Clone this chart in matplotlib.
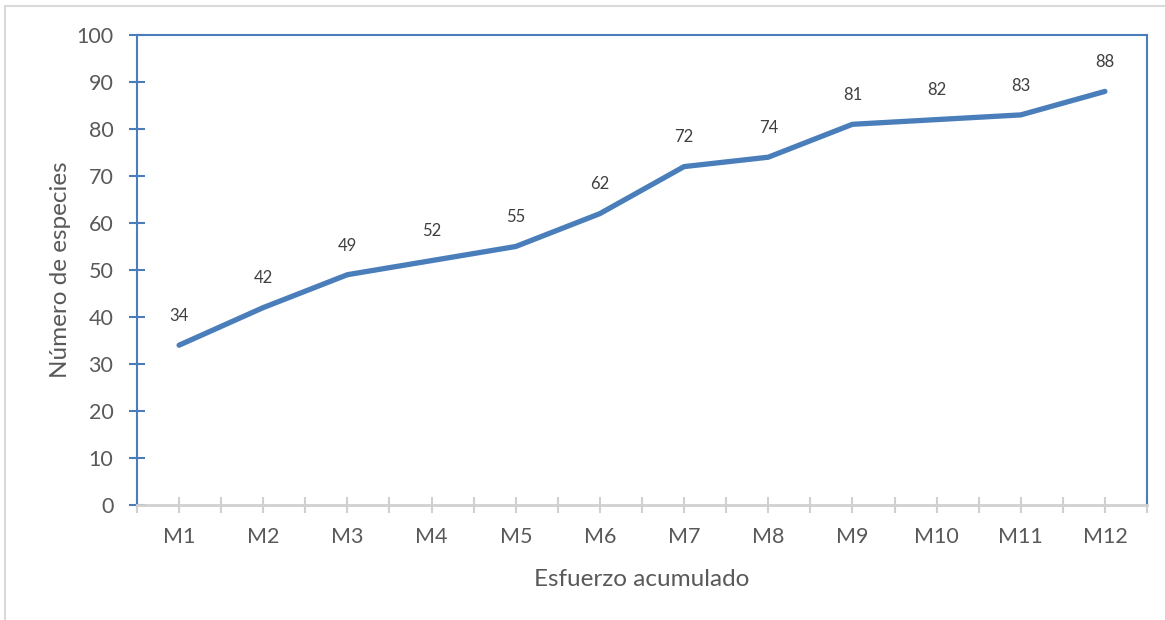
import matplotlib.pyplot as plt
from matplotlib.patches import Rectangle

muestreos = ['M1', 'M2', 'M3', 'M4', 'M5', 'M6', 'M7', 'M8', 'M9', 'M10', 'M11', 'M12']
especies = [34, 42, 49, 52, 55, 62, 72, 74, 81, 82, 83, 88]

plt.rcParams['font.family'] = ['Lato', 'DejaVu Sans']
azul = '#4a7ebb'
gris = '#595959'

fig = plt.figure(figsize=(11.65, 6.2), dpi=100)
ax = fig.add_axes([137 / 1165, 1 - 505 / 620, 1010 / 1165, 470 / 620])

x = list(range(len(muestreos)))
ax.plot(x, especies, color=azul, linewidth=3.8, solid_capstyle='round', solid_joinstyle='round')
for xi, v in zip(x, especies):
    ax.annotate(str(v), (xi, v), xytext=(0, 21), textcoords='offset points',
                ha='center', va='center', fontsize=12, color='#404040')

ax.set_xlim(-0.5, len(muestreos) - 0.5)
ax.set_ylim(0, 100)
ax.set_yticks(range(0, 101, 10))
ax.set_xticks(x)
ax.set_xticklabels(muestreos)
ax.set_xticks([i - 0.5 for i in range(len(muestreos) + 1)], minor=True)

for s in ['left', 'top', 'right']:
    ax.spines[s].set_color(azul)
    ax.spines[s].set_linewidth(1.5)
ax.spines['bottom'].set_color('#d0d0d0')
ax.spines['bottom'].set_linewidth(2)

ax.tick_params(axis='y', direction='inout', length=12, width=1.5, color=azul,
               labelsize=15.5, labelcolor=gris, pad=11)
ax.tick_params(axis='x', which='both', direction='inout', length=11, width=1.5,
               color='#d0d0d0', labelsize=15.5, labelcolor=gris, pad=10)

ax.set_xlabel('Esfuerzo acumulado', fontsize=17.5, color=gris, labelpad=16)
ax.set_ylabel('Número de especies', fontsize=17.5, color=gris, labelpad=4)

# borde del área del gráfico
fig.patches.append(Rectangle((5 / 1165, -0.1), 1.2, 1 - 6 / 620 + 0.1,
                             transform=fig.transFigure, fill=False,
                             edgecolor='#d9d9d9', linewidth=1.5))

fig.savefig('out.png', dpi=100)
